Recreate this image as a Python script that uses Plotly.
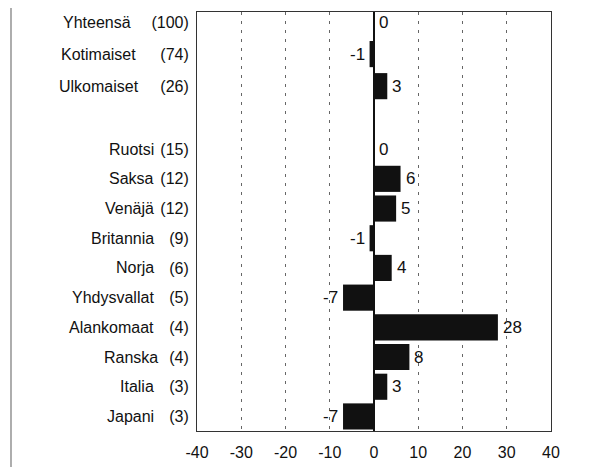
import plotly.graph_objects as go

names = ["Yhteensä", "Kotimaiset", "Ulkomaiset",
         "Ruotsi", "Saksa", "Venäjä", "Britannia", "Norja",
         "Yhdysvallat", "Alankomaat", "Ranska", "Italia", "Japani"]
shares = ["(100)", "(74)", "(26)",
          "(15)", "(12)", "(12)", "(9)", "(6)",
          "(5)", "(4)", "(4)", "(3)", "(3)"]
values = [0, -1, 3, 0, 6, 5, -1, 4, -7, 28, 8, 3, -7]
x_ticks = [-40, -30, -20, -10, 0, 10, 20, 30, 40]

# layout only: row positions (gap after the first group) and right edges of names (page px)
rows = [0, 1.08, 2.16, 4.28, 5.28, 6.28, 7.28, 8.28, 9.28, 10.28, 11.28, 12.28, 13.28]
name_edge = [133, 138, 141, 156, 156, 156, 156, 156, 156, 156, 160, 156, 156]

FONT = "Liberation Sans, Arial, sans-serif"
OFF = 8  # page body margin
W, H = 594, 467
L, R, T, B = 197 - OFF, 43 + OFF, 12 - OFF, 36 + OFF

fig = go.Figure()
fig.add_trace(go.Bar(
    x=values, y=rows, orientation="h", width=0.88,
    marker=dict(color="#111111", line=dict(width=0)),
    hoverinfo="skip", showlegend=False,
))

pw = W - L - R
ph = H - T - B
for r, v in zip(rows, values):
    fig.add_annotation(
        x=v, xref="x", y=r, yref="y", text=str(v), showarrow=False,
        xanchor="right" if v < 0 else "left", yanchor="middle",
        xshift=-3 if v < 0 else 3,
        font=dict(family=FONT, size=17, color="#111111"),
    )
for r, n, e in zip(rows, names, name_edge):
    fig.add_annotation(
        x=(e - OFF - L) / pw, xref="paper", y=r, yref="y",
        text=n, showarrow=False, xanchor="right", yanchor="middle",
        font=dict(family=FONT, size=16, color="#111111"),
    )

fig.add_shape(type="line", xref="paper", yref="paper",
              x0=(11 - OFF - L) / pw, x1=(11 - OFF - L) / pw,
              y0=-B / ph, y1=1 + T / ph,
              line=dict(color="#777777", width=1.2))

fig.update_layout(
    width=W, height=H,
    margin=dict(l=L, r=R, t=T, b=B, autoexpand=False),
    paper_bgcolor="white", plot_bgcolor="white",
    font=dict(family=FONT, size=16, color="#111111"),
)
fig.update_xaxes(
    range=[-40, 40], tickvals=x_ticks, ticktext=[str(t) for t in x_ticks],
    showgrid=True, gridcolor="#666666", gridwidth=1, griddash="3px,6px",
    zeroline=True, zerolinecolor="#111111", zerolinewidth=1.5,
    showline=True, linecolor="#333333", linewidth=1, mirror=True,
    ticks="", ticklabelstandoff=7,
    tickfont=dict(family=FONT, size=16, color="#111111"),
)
fig.update_yaxes(
    range=[13.77, -0.337], tickvals=rows, ticktext=shares,
    showgrid=False, zeroline=False,
    showline=True, linecolor="#333333", linewidth=1, mirror=True,
    ticks="", ticklabelstandoff=4,
    tickfont=dict(family=FONT, size=16, color="#111111"),
)

fig.write_html("out.html")
